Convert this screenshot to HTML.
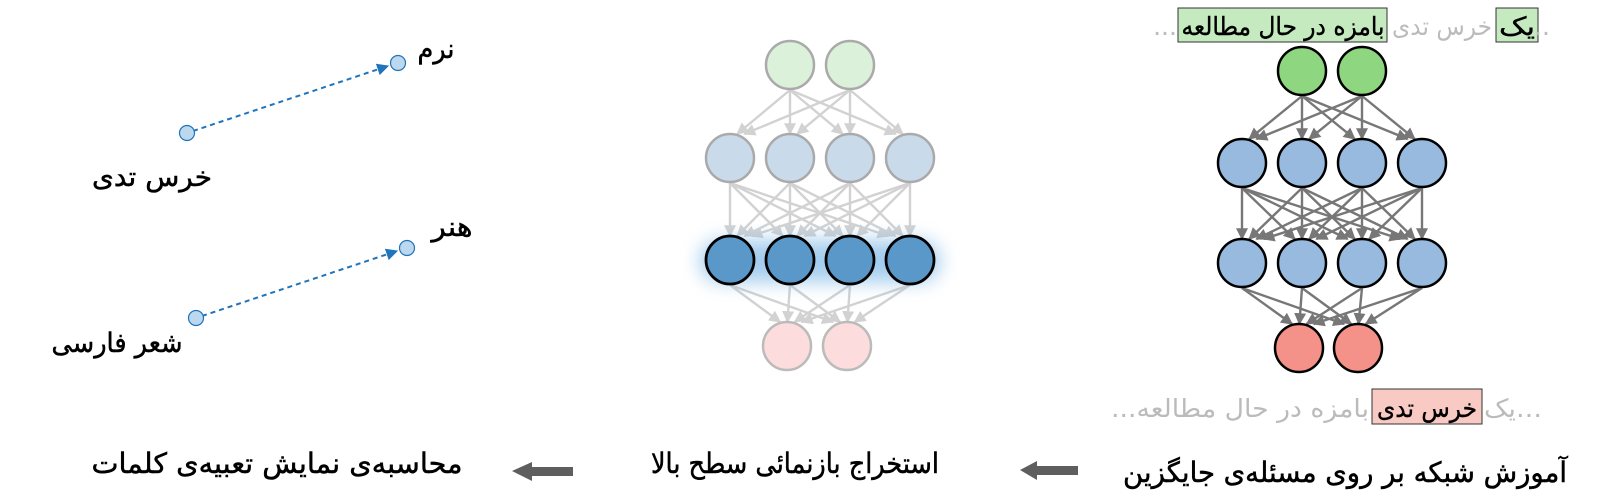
<!DOCTYPE html>
<html><head><meta charset="utf-8"><style>
html,body{margin:0;padding:0;background:#fff;width:1600px;height:500px;overflow:hidden}
svg{display:block}
text{font-family:"DejaVu Sans","Liberation Sans",sans-serif}
</style></head><body>
<svg id="s" width="1600" height="500" viewBox="0 0 1600 500" xmlns="http://www.w3.org/2000/svg">
<defs>
<marker id="ad" viewBox="0 0 10 10" refX="9" refY="5" markerWidth="5" markerHeight="5" orient="auto" markerUnits="strokeWidth"><path d="M0,0L10,5L0,10z" fill="#777"/></marker>
<marker id="al" viewBox="0 0 10 10" refX="9" refY="5" markerWidth="5" markerHeight="5" orient="auto" markerUnits="strokeWidth"><path d="M0,0L10,5L0,10z" fill="#d2d2d2"/></marker>
<marker id="ab" viewBox="0 0 10 10" refX="9" refY="5" markerWidth="6" markerHeight="6" orient="auto" markerUnits="strokeWidth"><path d="M0,0L10,5L0,10z" fill="#1f74bb"/></marker>
<filter id="glow" x="-50%" y="-80%" width="200%" height="260%"><feGaussianBlur stdDeviation="9"/></filter>
</defs>
<g id="edges"></g>
<g id="nodes"></g>

<line x1="193" y1="131" x2="388" y2="66" stroke="#1f74bb" stroke-width="2" stroke-dasharray="5,4" marker-end="url(#ab)"/>
<line x1="202" y1="316" x2="397" y2="251" stroke="#1f74bb" stroke-width="2" stroke-dasharray="5,4" marker-end="url(#ab)"/>
<circle cx="187" cy="133" r="7.5" fill="#bcd8ee" stroke="#1f74bb" stroke-width="1.2"/>
<circle cx="398" cy="63" r="7.5" fill="#bcd8ee" stroke="#1f74bb" stroke-width="1.2"/>
<circle cx="196" cy="318" r="7.5" fill="#bcd8ee" stroke="#1f74bb" stroke-width="1.2"/>
<circle cx="407" cy="248" r="7.5" fill="#bcd8ee" stroke="#1f74bb" stroke-width="1.2"/>
<g font-size="27" fill="#000" direction="rtl" text-anchor="middle" stroke="#000" stroke-width="0.5">
<text x="436" y="58" textLength="37" lengthAdjust="spacingAndGlyphs">نرم</text>
<text x="152" y="186" textLength="120" lengthAdjust="spacingAndGlyphs">خرس تدی</text>
<text x="452" y="236" textLength="41" lengthAdjust="spacingAndGlyphs">هنر</text>
<text x="117" y="352" textLength="131" lengthAdjust="spacingAndGlyphs">شعر فارسی</text>
</g>

<rect x="1496" y="8" width="42" height="34" fill="#c6eac0" stroke="#333" stroke-width="1"/>
<rect x="1178" y="8" width="209" height="34" fill="#c6eac0" stroke="#333" stroke-width="1"/>
<g font-size="25" direction="rtl" text-anchor="middle">
<text x="1542" y="35" fill="#bbb">..</text>
<text x="1517" y="35" fill="#000" stroke="#000" stroke-width="0.4" textLength="36" lengthAdjust="spacingAndGlyphs">یک</text>
<text x="1442" y="35" fill="#bbb" textLength="100" lengthAdjust="spacingAndGlyphs">خرس تدی</text>
<text x="1283" y="35" fill="#000" stroke="#000" stroke-width="0.4" textLength="203" lengthAdjust="spacingAndGlyphs">بامزه در حال مطالعه</text>
<text x="1165" y="35" fill="#bbb">...</text>
</g>

<rect x="1372" y="389" width="110" height="35" fill="#f9c9c3" stroke="#333" stroke-width="1"/>
<g font-size="25" direction="rtl" text-anchor="middle">
<text x="1513" y="417" fill="#bbb" textLength="58" lengthAdjust="spacingAndGlyphs">...یک</text>
<text x="1427" y="417" fill="#000" stroke="#000" stroke-width="0.4" textLength="100" lengthAdjust="spacingAndGlyphs">خرس تدی</text>
<text x="1240" y="417" fill="#bbb" textLength="258" lengthAdjust="spacingAndGlyphs">بامزه در حال مطالعه...</text>
</g>

<g font-size="28" fill="#000" direction="rtl" text-anchor="middle" stroke="#000" stroke-width="0.5">
<text x="1345" y="482" textLength="444" lengthAdjust="spacingAndGlyphs">آموزش شبکه بر روی مسئله‌ی جایگزین</text>
<text x="795" y="473" textLength="288" lengthAdjust="spacingAndGlyphs">استخراج بازنمائی سطح بالا</text>
<text x="277" y="473" textLength="371" lengthAdjust="spacingAndGlyphs">محاسبه‌ی نمایش تعبیه‌ی کلمات</text>
</g>
<path d="M1020,470 L1037,461 L1037,466 L1078,466 L1078,475 L1037,475 L1037,480 Z" fill="#5e5e5e"/>
<path d="M512,471 L532,462 L532,467 L573,467 L573,476 L532,476 L532,481 Z" fill="#5e5e5e"/>
</svg>
<script>
var NS="http://www.w3.org/2000/svg",E=document.getElementById('edges'),N=document.getElementById('nodes');
function el(t,a,p){var e=document.createElementNS(NS,t);for(var k in a)e.setAttribute(k,a[k]);p.appendChild(e);return e;}
function layers(L,r,col,mk,sw){
 for(var i=0;i<L.length-1;i++){
  L[i].pts.forEach(function(a){L[i+1].pts.forEach(function(b){
   var x1=a[0],y1=a[1]+r;
   var ex=b[0]+(a[0]-b[0])*0.12,ey=b[1]-r+1;
   el('line',{x1:x1,y1:y1,x2:ex,y2:ey,stroke:col,'stroke-width':sw,'marker-end':'url(#'+mk+')'},E);
  });});
 }
}
function row(xs,y){return xs.map(function(x){return [x,y];});}
var R=[{pts:row([1302,1362],71),f:'#8fd680'},{pts:row([1242,1302,1362,1422],163),f:'#97bade'},{pts:row([1242,1302,1362,1422],263),f:'#97bade'},{pts:row([1299,1358],348),f:'#f4928a'}];
layers(R,25,'#777','ad',2.4);
R.forEach(function(l){l.pts.forEach(function(p){el('circle',{cx:p[0],cy:p[1],r:24,fill:l.f,stroke:'#000','stroke-width':2.5},N);});});
var M=[{pts:row([790,850],65),f:'#dcf1d9',s:'#aaa'},{pts:row([730,790,850,910],158),f:'#c9daeb',s:'#aaa'},{pts:row([730,790,850,910],260),f:'#5b98ca',s:'#000'},{pts:row([787,847],346),f:'#fcdcdc',s:'#bbb'}];
layers(M,25,'#d2d2d2','al',2.4);
el('rect',{x:700,y:240,width:240,height:42,rx:20,fill:'#7fb8e6',opacity:0.7,filter:'url(#glow)'},N);
M.forEach(function(l){l.pts.forEach(function(p){el('circle',{cx:p[0],cy:p[1],r:24,fill:l.f,stroke:l.s,'stroke-width':l.s=='#000'?2.8:2.5},N);});});
</script>
</body></html>
